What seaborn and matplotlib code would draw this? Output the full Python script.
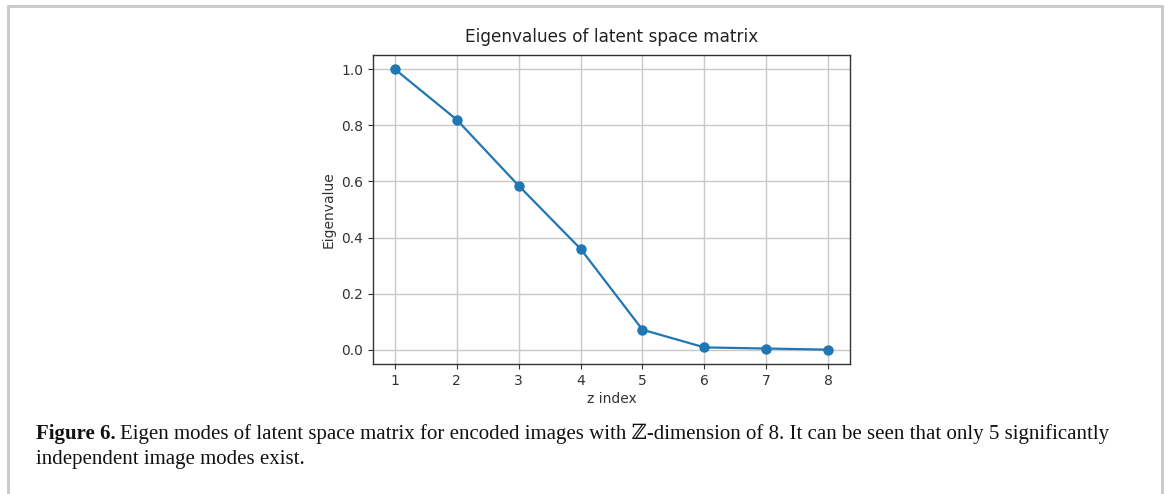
import matplotlib
matplotlib.use("Agg")
import matplotlib.pyplot as plt
import seaborn as sns
import pandas as pd
from matplotlib.lines import Line2D

z_index = [1, 2, 3, 4, 5, 6, 7, 8]
eigenvalues = [1.0, 0.82, 0.585, 0.36, 0.072, 0.009, 0.005, 0.001]
y_ticks = [0.0, 0.2, 0.4, 0.6, 0.8, 1.0]

sns.set_style("ticks")
plt.rcParams['font.family'] = ['DejaVu Sans']

df = pd.DataFrame({"z index": z_index, "Eigenvalue": eigenvalues})

fig = plt.figure(figsize=(11.67, 4.94), dpi=100)
ax = fig.add_axes([0.3196, 0.2632, 0.4088, 0.6255])
sns.lineplot(data=df, x="z index", y="Eigenvalue", marker="o", color="#1f77b4",
             markersize=7.5, markeredgewidth=0, linewidth=1.6, ax=ax)
ax.grid(True, color="#c8c8c8", linewidth=1.0)
ax.set_axisbelow(True)
ax.set_xticks(z_index)
ax.set_yticks(y_ticks)
ax.set_xlim(0.65, 8.35)
ax.set_ylim(-0.05, 1.05)
ax.tick_params(labelsize=10, colors="#333333", length=3.5, width=0.8)
for s in ax.spines.values():
    s.set_color("#333333")
    s.set_linewidth(1.0)
ax.set_xlabel("z index", fontsize=10, color="#333333", labelpad=3)
ax.set_ylabel("Eigenvalue", fontsize=10, color="#333333", labelpad=4)
ax.set_title("Eigenvalues of latent space matrix", fontsize=12.2, color="#222222", pad=9)

# page frame
fc = "#c8c8c8"
fig.add_artist(Line2D([7.5/1167, 7.5/1167], [0, 1 - 6/494], transform=fig.transFigure, color=fc, lw=2))
fig.add_artist(Line2D([7.5/1167, 1161.5/1167], [1 - 6/494, 1 - 6/494], transform=fig.transFigure, color=fc, lw=2))
fig.add_artist(Line2D([1161.5/1167, 1161.5/1167], [0, 1 - 6/494], transform=fig.transFigure, color=fc, lw=2))

# caption
serif = ["Liberation Serif", "DejaVu Serif"]
fig.text(36/1167, 1 - 439/494, "Figure 6.", fontsize=15, fontweight="bold",
         family=serif, va="baseline", ha="left", color="#111111")
fig.text(120/1167, 1 - 439/494,
         "Eigen modes of latent space matrix for encoded images with \u2124-dimension of 8. It can be seen that only 5 significantly",
         fontsize=15, family=serif, va="baseline", ha="left", color="#111111")
fig.text(36/1167, 1 - 464/494, "independent image modes exist.", fontsize=15,
         family=serif, va="baseline", ha="left", color="#111111")

fig.savefig("out.png", dpi=100)
